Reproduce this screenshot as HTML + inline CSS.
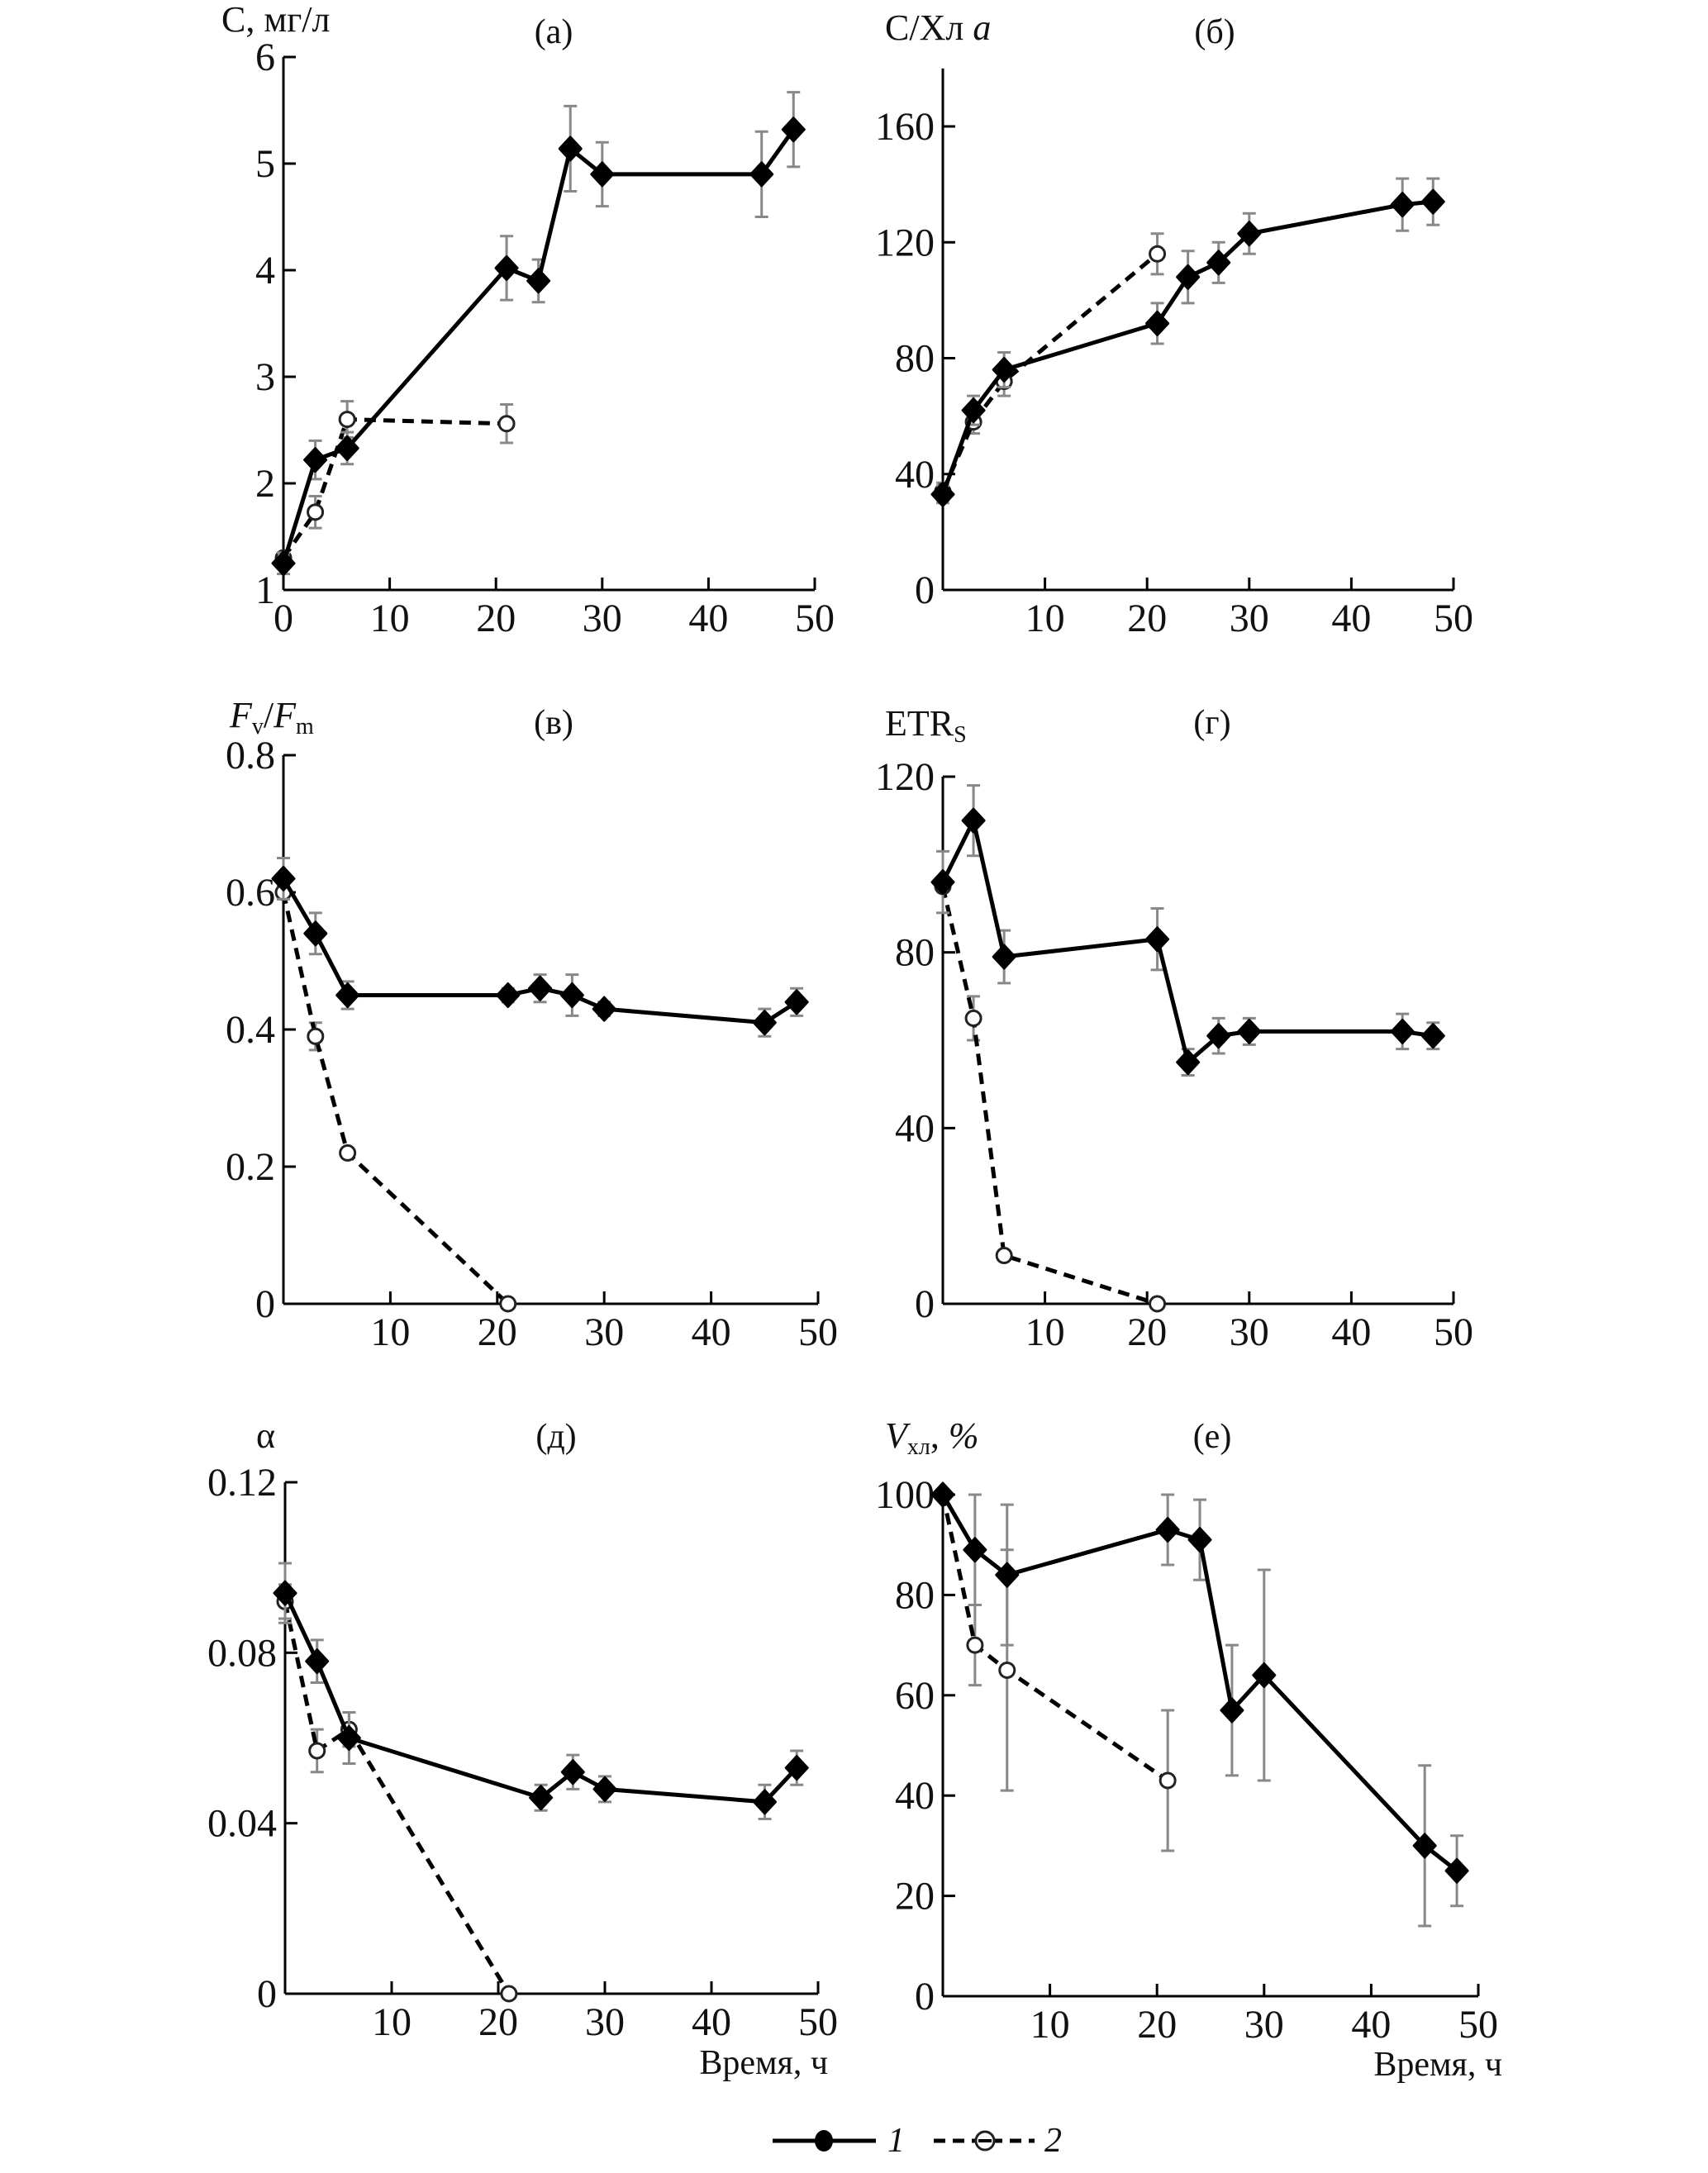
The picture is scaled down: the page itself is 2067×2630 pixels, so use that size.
<!DOCTYPE html>
<html><head><meta charset="utf-8"><style>
html,body{margin:0;padding:0;background:#fff;}
svg{display:block;}
text{font-family:"Liberation Serif",serif;fill:#111;}
</style></head><body>
<svg id="fig" width="2067" height="2630" viewBox="0 0 2067 2630" xmlns="http://www.w3.org/2000/svg"></svg>
<script>
const NS="http://www.w3.org/2000/svg";
const svg=document.getElementById('fig');
// ---- data ----
const hours1=[0,3,6,21,24,27,30,45,48];
const hours2=[0,3,6,21];
const hoursA1=[0,3,6,24,27,30,45,48];
const cVals1=[1.25,2.22,2.33,4.02,3.9,5.14,4.9,4.9,5.32];
const cErr1=[0.1,0.18,0.15,0.3,0.2,0.4,0.3,0.4,0.35];
const cVals2=[1.3,1.73,2.6,2.56];
const cErr2=[0.05,0.15,0.17,0.18];
const chlVals1=[33,62,76,92,108,113,123,133,134];
const chlErr1=[3,5,6,7,9,7,7,9,8];
const chlVals2=[34,58,72,116];
const chlErr2=[3,4,5,7];
const fvVals1=[0.62,0.54,0.45,0.45,0.46,0.45,0.43,0.41,0.44];
const fvErr1=[0.03,0.03,0.02,0.01,0.02,0.03,0.01,0.02,0.02];
const fvVals2=[0.6,0.39,0.22,0];
const fvErr2=[0.01,0.02,0,0];
const etrVals1=[96,110,79,83,55,61,62,62,61];
const etrErr1=[7,8,6,7,3,4,3,4,3];
const etrVals2=[95,65,11,0];
const etrErr2=[0,5,0,0];
const alphaVals1=[0.094,0.078,0.060,0.046,0.052,0.048,0.045,0.053];
const alphaErr1=[0.007,0.005,0.006,0.003,0.004,0.003,0.004,0.004];
const alphaVals2=[0.092,0.057,0.062,0];
const alphaErr2=[0.004,0.005,0.004,0];
const vVals1=[100,89,84,93,91,57,64,30,25];
const vErr1=[0,11,14,7,8,13,21,16,7];
const vVals2=[100,70,65,43];
const vErr2=[0,8,24,14];
const xTicksA=[0,10,20,30,40,50];
const xTicks=[10,20,30,40,50];
const yTicksC=[1,2,3,4,5,6];
const yTicksChl=[0,40,80,120,160];
const yTicksFv=[0,0.2,0.4,0.6,0.8];
const yTicksEtr=[0,40,80,120];
const yTicksAlpha=[0,0.04,0.08,0.12];
const yTicksV=[0,20,40,60,80,100];

function el(tag,attrs,parent){const e=document.createElementNS(NS,tag);for(const k in attrs)e.setAttribute(k,attrs[k]);(parent||svg).appendChild(e);return e;}

function panel(cfg){
  const g=el('g',{});
  
  
  const sx=v=>cfg.x0+(v-0)/(50-0)*(cfg.x50-cfg.x0);
  const sy=v=>cfg.yb+(v-cfg.ymin)/(cfg.ymax-cfg.ymin)*(cfg.yt-cfg.yb);
  const yAx=el('line',{x1:cfg.x0,y1:sy(cfg.ytop),x2:cfg.x0,y2:cfg.yb,stroke:'#000','stroke-width':3},g);
  
  
  const xAx=el('line',{x1:cfg.x0,y1:cfg.yb,x2:cfg.x50,y2:cfg.yb,stroke:'#000','stroke-width':3},g);
  
  
  cfg.xticks.forEach(t=>{
    el('line',{x1:sx(t),y1:cfg.yb,x2:sx(t),y2:cfg.yb-15,stroke:'#000','stroke-width':3},g);
    const tx=el('text',{x:sx(t),y:cfg.yb+50,'text-anchor':'middle','font-size':48},g);
    tx.textContent=t;
    
    
  });
  cfg.yticks.forEach(t=>{
    el('line',{x1:cfg.x0,y1:sy(t),x2:cfg.x0+15,y2:sy(t),stroke:'#000','stroke-width':3},g);
    const tx=el('text',{x:cfg.x0-10,y:sy(t)+16,'text-anchor':'end','font-size':48},g);
    tx.textContent=cfg.fmt?cfg.fmt(t):t;
    
    
  });
  const ti=el('text',{x:cfg.tx,y:cfg.tby,'text-anchor':'middle','font-size':42},g);
  ti.textContent=cfg.title;
  
  
  const yl=el('text',{x:cfg.lx,y:cfg.lby,'font-size':44},g);
  yl.innerHTML=cfg.ylabel;
  
  
  function series(xs,ys,es,filled,nm){
    const sg=el('g',{},g);
    
    
    xs.forEach((x,i)=>{ if(es[i]>0){
      const X=sx(x),y1=sy(ys[i]-es[i]),y2=sy(ys[i]+es[i]);
      el('line',{x1:X,y1:y1,x2:X,y2:y2,stroke:'#888','stroke-width':3},sg);
      el('line',{x1:X-8,y1:y1,x2:X+8,y2:y1,stroke:'#888','stroke-width':3},sg);
      el('line',{x1:X-8,y1:y2,x2:X+8,y2:y2,stroke:'#888','stroke-width':3},sg);
    }});
    const pts=xs.map((x,i)=>sx(x)+','+sy(ys[i])).join(' ');
    el('polyline',{points:pts,fill:'none',stroke:'#000','stroke-width':5,'stroke-dasharray':filled?'none':'14 9'},sg);
    xs.forEach((x,i)=>{
      const X=sx(x),Y=sy(ys[i]);
      if(filled){
        const m=el('path',{d:`M${X},${Y-14}L${X+13},${Y}L${X},${Y+14}L${X-13},${Y}Z`,fill:'#000',stroke:'#000','stroke-width':3,'stroke-linejoin':'round'},sg);
        
        
      }else{
        const m=el('circle',{cx:X,cy:Y,r:9,fill:'#fff',stroke:'#222','stroke-width':3},sg);
        
        
      }
    });
  }
  series(cfg.x2,cfg.v2,cfg.e2,false,'series-2');
  series(cfg.x1,cfg.v1,cfg.e1,true,'series-1');
  if(cfg.xlabel){
    const xl=el('text',{x:cfg.xlx,y:cfg.xly,'text-anchor':'end','font-size':42},g);
    xl.textContent='Время, ч';
    
    
  }
}
const f2=t=>t===0?'0':t.toFixed(1);
const f3=t=>t===0?'0':t.toFixed(2);
panel({name:'panel-a',x0:343,x50:986,yb:714,yt:69,ymin:1,ymax:6,ytop:6,xticks:xTicksA,yticks:yTicksC,
  title:'(а)',tx:670,tby:52,ylabel:'C, мг/л',lx:268,lby:38,
  x1:hours1,v1:cVals1,e1:cErr1,x2:hours2,v2:cVals2,e2:cErr2});
panel({name:'panel-b',x0:1141,x50:1759,yb:714,yt:153,ymin:0,ymax:160,ytop:180,xticks:xTicks,yticks:yTicksChl,
  title:'(б)',tx:1470,tby:52,ylabel:'C/Хл <tspan font-style="italic">a</tspan>',lx:1071,lby:48,
  x1:hours1,v1:chlVals1,e1:chlErr1,x2:hours2,v2:chlVals2,e2:chlErr2});
panel({name:'panel-v',x0:343,x50:990,yb:1578,yt:914,ymin:0,ymax:0.8,ytop:0.8,xticks:xTicks,yticks:yTicksFv,fmt:f2,
  title:'(в)',tx:670,tby:888,ylabel:'<tspan font-style="italic">F</tspan><tspan font-size="28" dy="8">v</tspan><tspan dy="-8">/</tspan><tspan font-style="italic">F</tspan><tspan font-size="28" dy="8">m</tspan>',lx:278,lby:880,
  x1:hours1,v1:fvVals1,e1:fvErr1,x2:hours2,v2:fvVals2,e2:fvErr2});
panel({name:'panel-g',x0:1141,x50:1759,yb:1578,yt:940,ymin:0,ymax:120,ytop:120,xticks:xTicks,yticks:yTicksEtr,
  title:'(г)',tx:1467,tby:888,ylabel:'ETR<tspan font-size="28" dy="8">S</tspan>',lx:1071,lby:890,
  x1:hours1,v1:etrVals1,e1:etrErr1,x2:hours2,v2:etrVals2,e2:etrErr2});
panel({name:'panel-d',x0:345,x50:990,yb:2413,yt:1794,ymin:0,ymax:0.12,ytop:0.12,xticks:xTicks,yticks:yTicksAlpha,fmt:f3,
  title:'(д)',tx:673,tby:1752,ylabel:'α',lx:310,lby:1752,
  x1:hoursA1,v1:alphaVals1,e1:alphaErr1,x2:hours2,v2:alphaVals2,e2:alphaErr2,xlabel:true,xlx:1002,xly:2510});
panel({name:'panel-e',x0:1141,x50:1789,yb:2416,yt:1809,ymin:0,ymax:100,ytop:100,xticks:xTicks,yticks:yTicksV,
  title:'(е)',tx:1467,tby:1752,ylabel:'<tspan font-style="italic">V</tspan><tspan font-size="28" dy="8">хл</tspan><tspan dy="-8">, </tspan><tspan font-style="italic">%</tspan>',lx:1071,lby:1752,
  x1:hours1,v1:vVals1,e1:vErr1,x2:hours2,v2:vVals2,e2:vErr2,xlabel:true,xlx:1818,xly:2512});
const lg=el('g',{});


el('line',{x1:935,y1:2591,x2:1060,y2:2591,stroke:'#000','stroke-width':5},lg);
el('ellipse',{cx:997,cy:2591,rx:11,ry:13,fill:'#000'},lg);
const l1=el('text',{x:1074,y:2604,'font-size':42,'font-style':'italic'},lg);l1.textContent='1';


el('line',{x1:1130,y1:2591,x2:1252,y2:2591,stroke:'#000','stroke-width':5,'stroke-dasharray':'14 9'},lg);
el('circle',{cx:1192,cy:2591,r:11,fill:'#fff',stroke:'#222','stroke-width':3},lg);
el('line',{x1:1184,y1:2591,x2:1200,y2:2591,stroke:'#000','stroke-width':4},lg);
const l2=el('text',{x:1264,y:2604,'font-size':42,'font-style':'italic'},lg);l2.textContent='2';


</script>
</body></html>
